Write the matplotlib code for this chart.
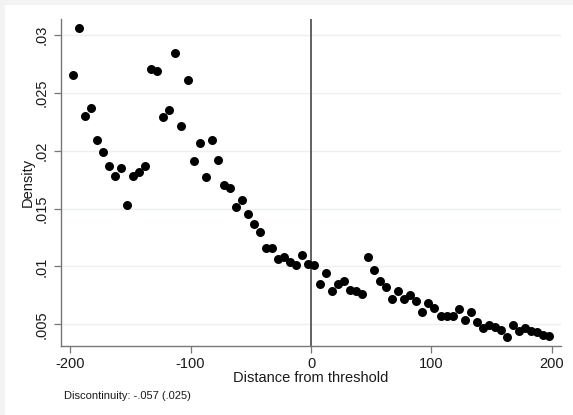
import numpy as np
import matplotlib
matplotlib.use("Agg")
import matplotlib.pyplot as plt
from matplotlib.patches import Rectangle

plt.rcParams['font.family'] = ['Liberation Sans', 'DejaVu Sans']
plt.rcParams['axes.unicode_minus'] = False

# ============================================================
# Data: binned density, 5-unit bins centred from -197.5 to 197.5
# ============================================================
bin_centers = np.arange(-197.5, 200, 5)
density = [
    0.0265, 0.0306, 0.0230, 0.0237, 0.0209, 0.0199, 0.0187, 0.0178, 0.0185, 0.0153,
    0.0178, 0.0182, 0.0187, 0.0271, 0.0269, 0.0229, 0.0235, 0.0284, 0.0221, 0.0261,
    0.0191, 0.0207, 0.0177, 0.0209, 0.0192, 0.0170, 0.0168, 0.0151, 0.0157, 0.0145,
    0.0137, 0.0130, 0.0116, 0.0116, 0.0106, 0.0108, 0.0104, 0.0101, 0.0110, 0.0102,
    0.0101, 0.0085, 0.0094, 0.0079, 0.0085, 0.0087, 0.0080, 0.0079, 0.0076, 0.0108,
    0.0097, 0.0087, 0.0082, 0.0072, 0.0079, 0.0072, 0.0075, 0.0070, 0.0061, 0.0068,
    0.0064, 0.0057, 0.0057, 0.0057, 0.0063, 0.0054, 0.0061, 0.0052, 0.0047, 0.0049,
    0.0048, 0.0045, 0.0039, 0.0049, 0.0044, 0.0047, 0.0044, 0.0043, 0.0041, 0.0040,
]

x_ticks = [-200, -100, 0, 100, 200]
y_ticks = [0.005, 0.01, 0.015, 0.02, 0.025, 0.03]
y_tick_labels = [".005", ".01", ".015", ".02", ".025", ".03"]
note = "Discontinuity: -.057 (.025)"

# ============================================================
# Figure
# ============================================================
fig = plt.figure(figsize=(5.73, 4.15), dpi=100)
fig.patch.set_facecolor('#f3f3f3')
bg = Rectangle((5 / 573, 0), 1, 1 - 5 / 415, transform=fig.transFigure,
               facecolor='white', edgecolor='none', zorder=-10)
fig.patches.append(bg)

ax = fig.add_axes([61 / 573, 1 - 346 / 415, 500 / 573, 327 / 415])
ax.set_facecolor('white')

ax.scatter(bin_centers, density, s=42, color='black', zorder=3, linewidths=0)
ax.axvline(0, color='#555555', linewidth=1.3, zorder=2)

ax.set_xlim(-207.5, 207.5)
ax.set_ylim(0.00312, 0.03138)
ax.set_xticks(x_ticks)
ax.set_yticks(y_ticks)
ax.set_yticklabels(y_tick_labels, rotation=90, va='center')

ax.grid(axis='y', color='#eaf1f1', linewidth=1.0, zorder=0)
ax.set_axisbelow(True)

for side in ['top', 'right']:
    ax.spines[side].set_visible(False)
for side in ['left', 'bottom']:
    ax.spines[side].set_color('#777777')
    ax.spines[side].set_linewidth(1.0)

ax.tick_params(axis='both', direction='out', length=5, width=0.9, color='#777777',
               labelcolor='#1a1a1a', labelsize=10.5)
ax.tick_params(axis='x', pad=3)
ax.tick_params(axis='y', pad=4)

ax.set_xlabel("Distance from threshold", fontsize=10.5, color='#1a1a1a', labelpad=0)
ax.set_ylabel("Density", fontsize=10.5, color='#1a1a1a', labelpad=0)

fig.text(64 / 573, 1 - 396 / 415, note, fontsize=8, color='#1a1a1a', va='center', ha='left')

plt.savefig("out.png", dpi=100, facecolor=fig.get_facecolor())
